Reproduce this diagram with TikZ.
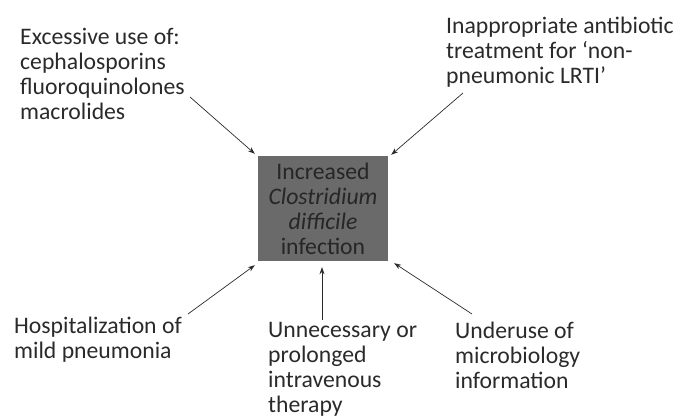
\documentclass[tikz,border=0pt]{standalone}
\usepackage{fontspec}
\setmainfont{Carlito}
\usetikzlibrary{arrows.meta}
\definecolor{txt}{HTML}{2A2A2A}
\definecolor{boxfill}{HTML}{6A6A6A}
\definecolor{boxtxt}{HTML}{262626}
\tikzset{
  lbl/.style={anchor=base west, align=left, inner sep=0pt, text=txt,
    font=\fontsize{23.7}{25}\selectfont},
  causebox/.style={fill=boxfill, draw=none, minimum width=130pt, minimum height=105pt,
    inner sep=0pt, align=center, text=boxtxt, font=\fontsize{23.7}{25}\selectfont},
  arr/.style={-{Stealth[length=7pt,width=5pt]}, line width=0.7pt, draw=txt},
}
\begin{document}
\begin{tikzpicture}[x=1pt,y=-1pt]
\useasboundingbox (0,0) rectangle (689,417);
\node[causebox] (box) at (323,208.5) {Increased\\\textit{Clostridium}\\\textit{difficile}\\infection};
% anchors are the baselines of the last lines
\node[lbl] (tl) at (20,120) {Excessive use of:\\cephalosporins\\fluoroquinolones\\macrolides};
\node[lbl] (tr) at (446,84) {Inappropriate antibiotic\\treatment for ‘non-\\pneumonic LRTI’};
\node[lbl] (bl) at (14,358) {Hospitalization of\\mild pneumonia};
\node[lbl] (bm) at (268,412) {Unnecessary or\\prolonged\\intravenous\\therapy};
\node[lbl] (br) at (455,388) {Underuse of\\microbiology\\information};
\coordinate (s1) at (190,97);
\coordinate (s2) at (463,93);
\coordinate (s3) at (188,314);
\coordinate (s4) at (322,320);
\coordinate (s5) at (472,314);
\draw[arr] (s1) -- ([shift={(-3,-2)}]box.north west);
\draw[arr] (s2) -- ([shift={(3,-1)}]box.north east);
\draw[arr] (s3) -- ([shift={(-3,4)}]box.south west);
\draw[arr] (s4) -- ([shift={(-1,6)}]box.south);
\draw[arr] (s5) -- ([shift={(6,2)}]box.south east);
\end{tikzpicture}
\end{document}
